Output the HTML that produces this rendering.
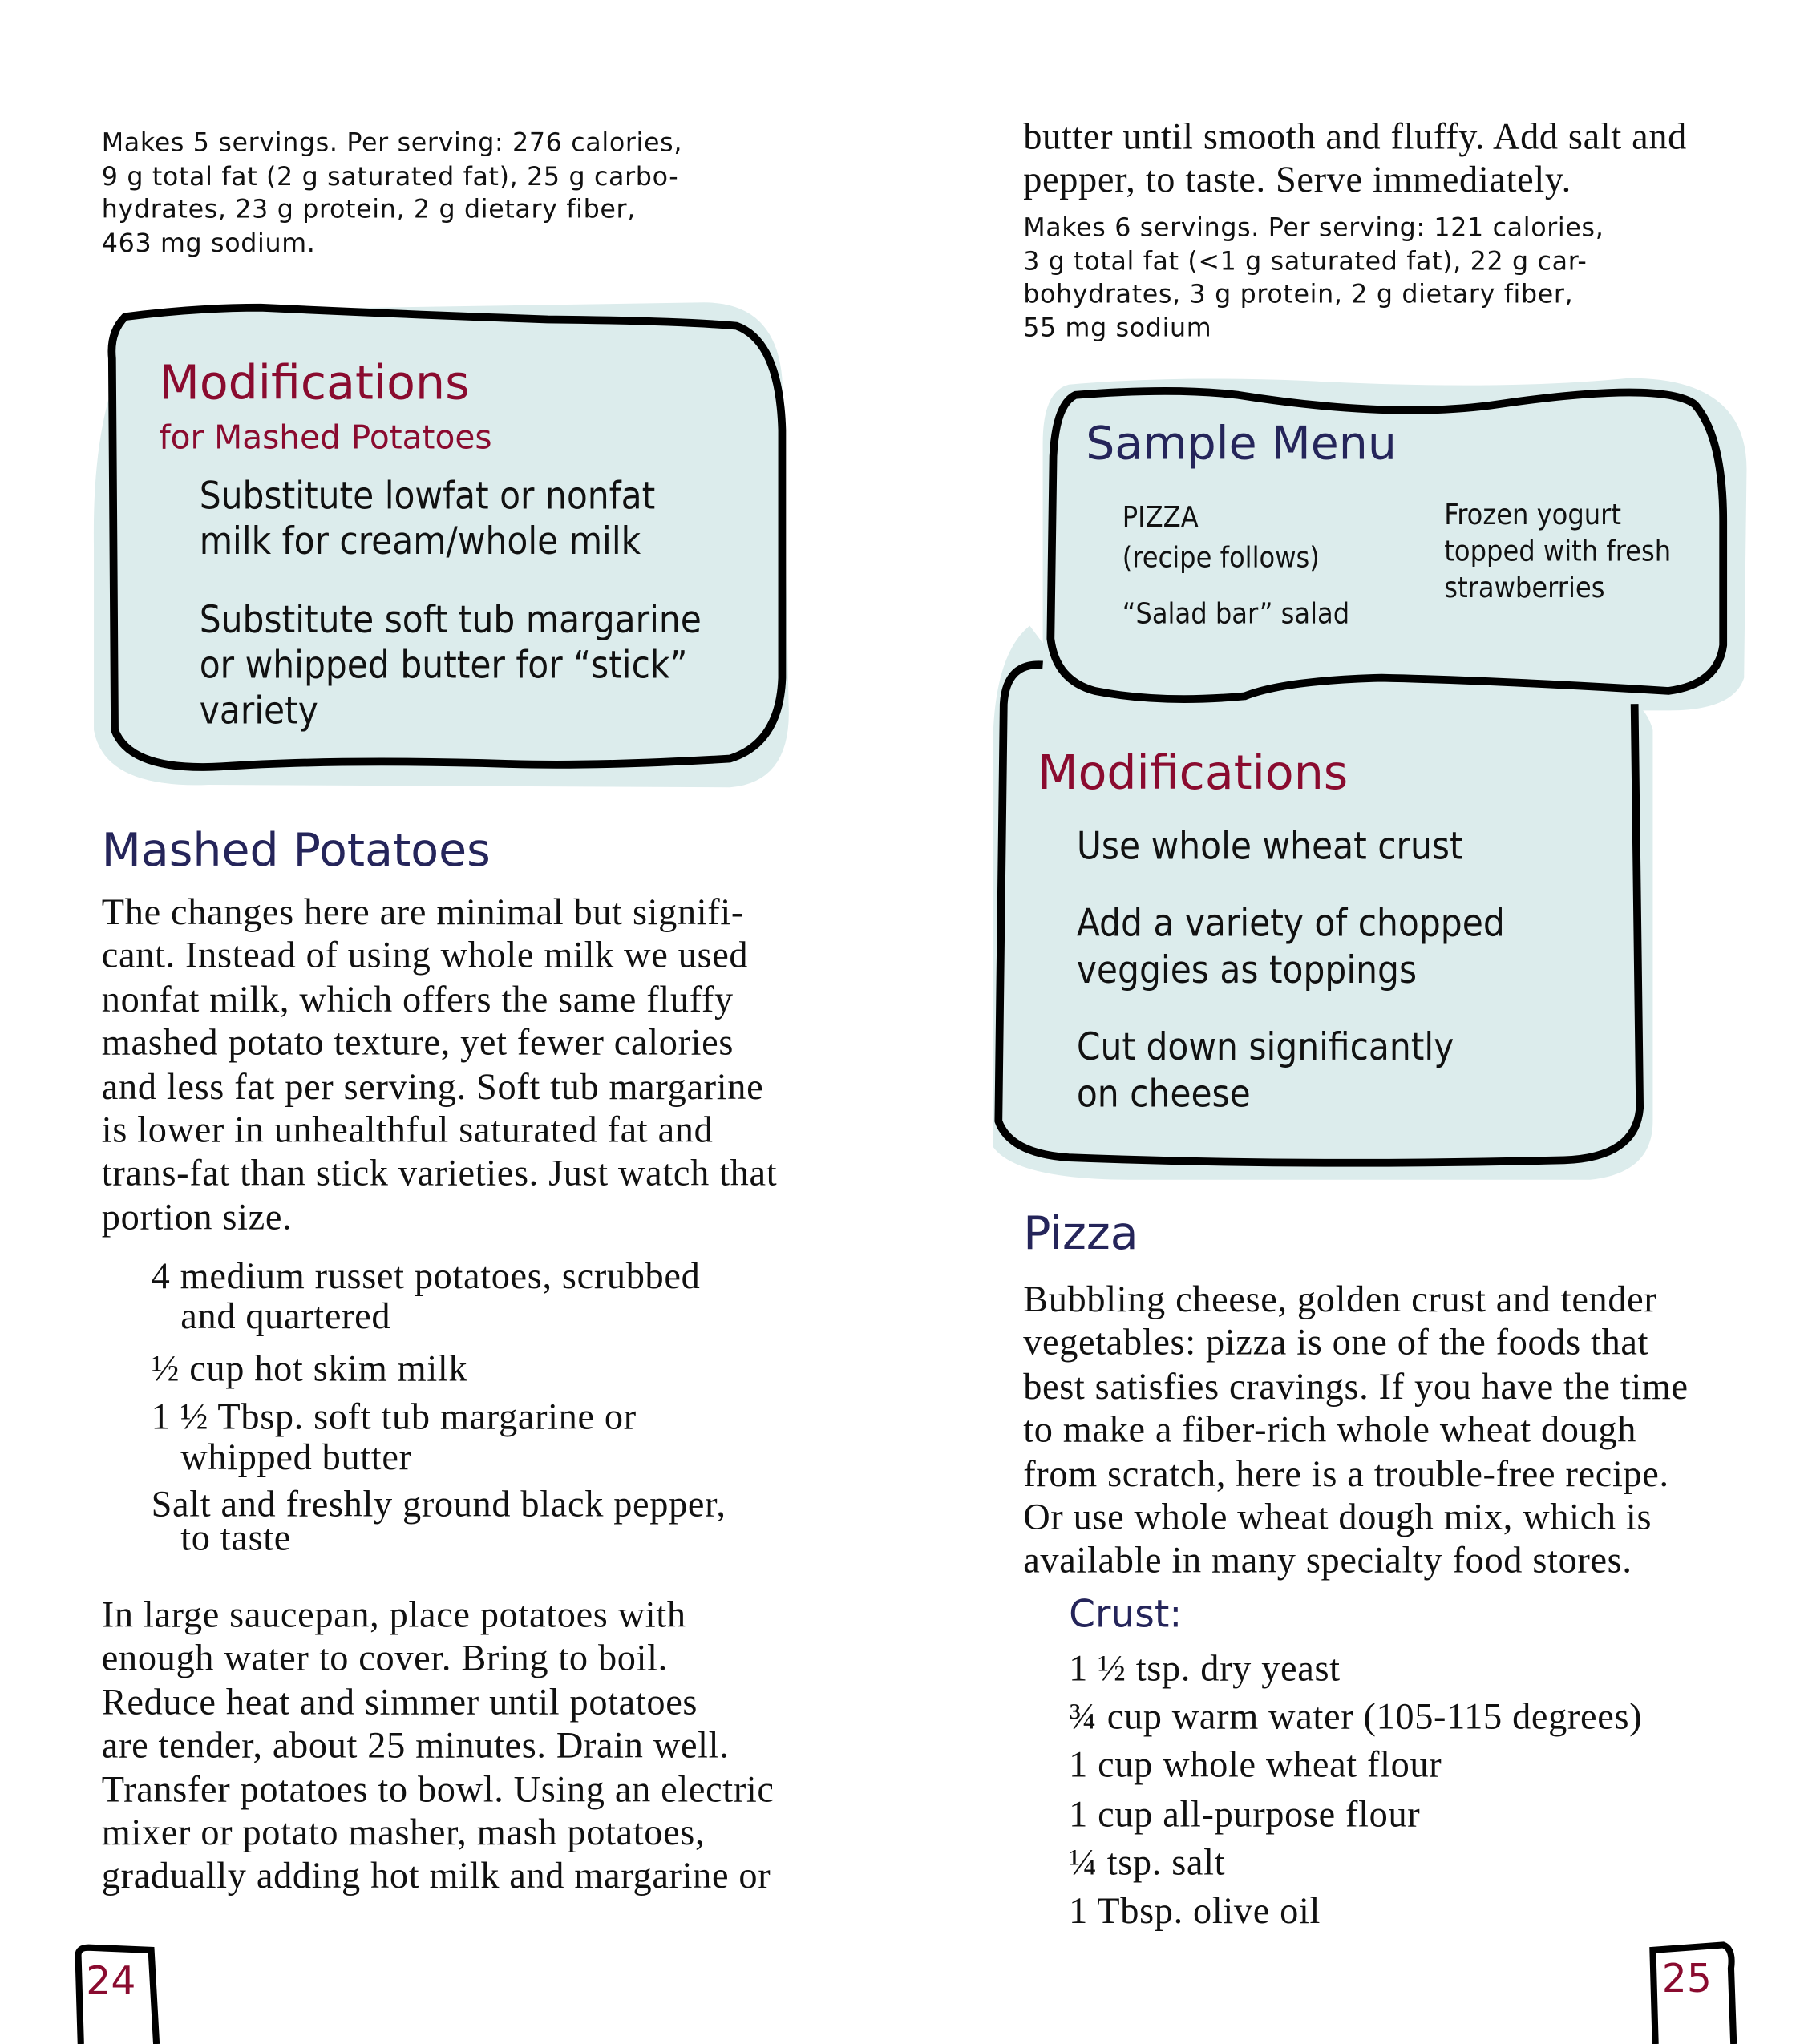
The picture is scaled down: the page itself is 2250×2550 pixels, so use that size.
<!DOCTYPE html>
<html><head><meta charset="utf-8"><style>
html,body{margin:0;padding:0;background:#fff;}
body{width:2250px;height:2550px;overflow:hidden;position:relative;}
#p{position:absolute;left:0;top:0;width:1384px;height:1568px;transform:scale(1.62572,1.6263);transform-origin:0 0;}
.t{position:absolute;white-space:nowrap;}
.hand{font-family:"DejaVu Sans","Liberation Sans",sans-serif;}
.nut{font-family:"DejaVu Sans",sans-serif;font-size:19.5px;line-height:25.5px;color:#111;letter-spacing:0.4px;}
.ser{font-family:"Liberation Serif",serif;font-size:28.5px;line-height:33.4px;color:#111;letter-spacing:0.4px;}
.sans{font-family:"DejaVu Sans Condensed","DejaVu Sans",sans-serif;color:#111;}
.mar{color:#8a0b2f;}
.nav{color:#25255a;}
</style></head><body><div id="p">
<svg width="1384" height="1568" style="position:absolute;left:0;top:0">
 <path d="M110 250 Q70 300 72 420 L72 560 Q80 605 160 602 L560 604 Q608 600 605 540 L600 290 Q595 232 540 232 L160 238 Z" fill="#dcecec"/>
 <path d="M96 243 Q150 236 200 236 Q330 242 420 245 Q520 246 565 250 Q598 262 600 330 L600 520 Q598 570 560 582 Q460 588 390 586 Q260 582 170 588 Q100 592 88 560 L86 275 Q84 255 96 243 Z" fill="#dcecec" stroke="#000" stroke-width="6" stroke-linejoin="round"/>
 <path d="M820 295 Q900 288 1000 292 Q1150 300 1250 290 Q1340 290 1340 360 L1338 520 Q1330 545 1280 545 L850 545 Q800 540 800 500 L800 340 Q800 300 820 295 Z" fill="#dcecec"/>
 <path d="M790 480 Q765 500 762 560 L762 880 Q780 905 870 905 L1220 905 Q1268 900 1268 860 L1268 560 Q1260 530 1220 530 L820 520 Z" fill="#dcecec"/>
 <path d="M800 510 Q772 508 770 540 L766 860 Q775 885 820 888 Q1000 895 1200 890 Q1255 888 1258 850 L1254 540" fill="#dcecec" stroke="#000" stroke-width="6" stroke-linejoin="round"/>
 <path d="M825 303 Q900 297 950 303 Q1070 322 1150 310 Q1275 292 1300 310 Q1322 335 1322 400 L1322 495 Q1318 525 1280 530 Q1150 522 1060 520 Q985 522 955 534 Q890 540 840 530 Q810 522 806 490 L808 350 Q810 310 825 303 Z" fill="#dcecec" stroke="#000" stroke-width="6" stroke-linejoin="round"/>
 <path d="M62 1568 L60 1500 Q60 1494 68 1494 L116 1496 L120 1568" fill="none" stroke="#000" stroke-width="5"/>
 <path d="M1270 1568 L1268 1496 L1322 1492 Q1330 1495 1328 1510 L1330 1568" fill="none" stroke="#000" stroke-width="5"/>
</svg>
<div class="t nut" style="left:78px;top:97px">Makes 5 servings. Per serving: 276 calories,<br>9 g total fat (2 g saturated fat), 25 g carbo-<br>hydrates, 23 g protein, 2 g dietary fiber,<br>463 mg sodium.</div>
<div class="t hand mar" style="left:122px;top:274px;font-size:36px">Modifications</div>
<div class="t hand mar" style="left:122px;top:321px;font-size:25px">for Mashed Potatoes</div>
<div class="t sans" style="left:153px;top:363px;font-size:29px;line-height:35px">Substitute lowfat or nonfat<br>milk for cream/whole milk</div>
<div class="t sans" style="left:153px;top:458px;font-size:29px;line-height:35px">Substitute soft tub margarine<br>or whipped butter for “stick”<br>variety</div>
<div class="t hand nav" style="left:78px;top:633px;font-size:35px">Mashed Potatoes</div>
<div class="t ser" style="left:78px;top:684px">The changes here are minimal but signifi-<br>cant. Instead of using whole milk we used<br>nonfat milk, which offers the same fluffy<br>mashed potato texture, yet fewer calories<br>and less fat per serving. Soft tub margarine<br>is lower in unhealthful saturated fat and<br>trans-fat than stick varieties. Just watch that<br>portion size.</div>
<div class="t ser" style="left:116px;top:964px;line-height:31px">4 medium russet potatoes, scrubbed<br>&nbsp;&nbsp;&nbsp;and quartered</div>
<div class="t ser" style="left:116px;top:1034px">½ cup hot skim milk</div>
<div class="t ser" style="left:116px;top:1072px;line-height:31px">1 ½ Tbsp. soft tub margarine or<br>&nbsp;&nbsp;&nbsp;whipped butter</div>
<div class="t ser" style="left:116px;top:1142px;line-height:26px">Salt and freshly ground black pepper,<br>&nbsp;&nbsp;&nbsp;to taste</div>
<div class="t ser" style="left:78px;top:1223px">In large saucepan, place potatoes with<br>enough water to cover. Bring to boil.<br>Reduce heat and simmer until potatoes<br>are tender, about 25 minutes. Drain well.<br>Transfer potatoes to bowl. Using an electric<br>mixer or potato masher, mash potatoes,<br>gradually adding hot milk and margarine or</div>
<div class="t hand mar" style="left:66px;top:1503px;font-size:30px">24</div>
<div class="t ser" style="left:785px;top:89px">butter until smooth and fluffy. Add salt and<br>pepper, to taste. Serve immediately.</div>
<div class="t nut" style="left:785px;top:162px">Makes 6 servings. Per serving: 121 calories,<br>3 g total fat (&lt;1 g saturated fat), 22 g car-<br>bohydrates, 3 g protein, 2 g dietary fiber,<br>55 mg sodium</div>
<div class="t hand nav" style="left:833px;top:321px;font-size:35px">Sample Menu</div>
<div class="t sans" style="left:861px;top:382px;font-size:22px;line-height:31px">PIZZA<br>(recipe follows)</div>
<div class="t sans" style="left:861px;top:456px;font-size:22px;line-height:31px">“Salad bar” salad</div>
<div class="t sans" style="left:1108px;top:382px;font-size:22px;line-height:28px">Frozen yogurt<br>topped with fresh<br>strawberries</div>
<div class="t hand mar" style="left:796px;top:573px;font-size:36px">Modifications</div>
<div class="t sans" style="left:826px;top:631px;font-size:29px;line-height:36px">Use whole wheat crust</div>
<div class="t sans" style="left:826px;top:690px;font-size:29px;line-height:36px">Add a variety of chopped<br>veggies as toppings</div>
<div class="t sans" style="left:826px;top:785px;font-size:29px;line-height:36px">Cut down significantly<br>on cheese</div>
<div class="t hand nav" style="left:785px;top:927px;font-size:35px">Pizza</div>
<div class="t ser" style="left:785px;top:981px">Bubbling cheese, golden crust and tender<br>vegetables: pizza is one of the foods that<br>best satisfies cravings. If you have the time<br>to make a fiber-rich whole wheat dough<br>from scratch, here is a trouble-free recipe.<br>Or use whole wheat dough mix, which is<br>available in many specialty food stores.</div>
<div class="t hand nav" style="left:820px;top:1221px;font-size:29px">Crust:</div>
<div class="t ser" style="left:820px;top:1262px;line-height:37.2px">1 ½ tsp. dry yeast<br>¾ cup warm water (105-115 degrees)<br>1 cup whole wheat flour<br>1 cup all-purpose flour<br>¼ tsp. salt<br>1 Tbsp. olive oil</div>
<div class="t hand mar" style="left:1275px;top:1501px;font-size:30px">25</div>
</div></body></html>
